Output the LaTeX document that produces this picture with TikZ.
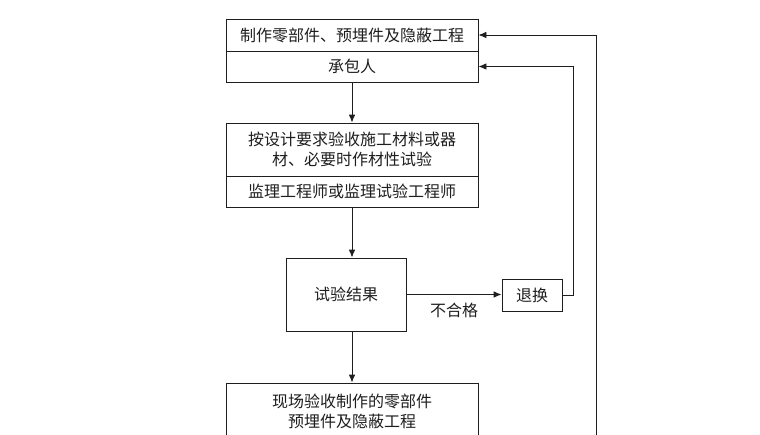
\documentclass[tikz,border=0pt]{standalone}
\usepackage{fontspec}
\usepackage{xcolor}
\usepackage{tikz}
\usetikzlibrary{positioning, arrows.meta}
\newfontfamily\cjk{Noto Sans CJK SC}
\definecolor{fInk}{HTML}{1E1E1E}

\begin{document}
\begin{tikzpicture}[x=0.75pt, y=-0.75pt, >={Latex[length=6pt,width=5pt]},
    box/.style={draw=fInk, line width=0.7pt, rectangle, inner sep=0pt, align=center,
      font=\cjk\fontsize{12}{15}\selectfont, text=fInk},
    flow/.style={->, draw=fInk, line width=0.7pt}]
      \useasboundingbox (0,0) rectangle (760,435);
      \clip (0,0) rectangle (760,435);
      % left column
      \node[box, minimum width=189pt, minimum height=24pt] (zhizuo) at (352,35) {制作零部件、预埋件及隐蔽工程};
      \node[box, minimum width=189pt, minimum height=23.25pt] (chengbao) at (352,66.5) {承包人};
      \node[box, minimum width=189pt, minimum height=39.75pt] (anyaoqiu) at (352,149.5)
        {按设计要求验收施工材料或器\\材、必要时作材性试验};
      \node[box, minimum width=189pt, minimum height=23.25pt] (jianli) at (352,191.5) {监理工程师或监理试验工程师};
      \node[box, minimum width=90pt, minimum height=54.75pt] (jieguo) at (346,294.5) {试验结果};
      \node[box, minimum width=189pt, minimum height=42pt] (xianchang) at (352,411)
        {现场验收制作的零部件\\预埋件及隐蔽工程};
      % right side
      \node[box, minimum width=45pt, minimum height=24pt] (tuihuan) at (532,295) {退换};
      \coordinate (fanhui) at (596,470);

      \draw[flow] (chengbao.south) -- (anyaoqiu.north);
      \draw[flow] (jianli.south) -- (jianli.south |- jieguo.north);
      \draw[flow] (jieguo.south -| jianli.south) -- (xianchang.north);
      \draw[flow] (jieguo.east) -- (jieguo.east -| tuihuan.west)
        node[midway, below=2.5pt, font=\cjk\fontsize{12}{15}\selectfont, text=fInk] (buhege) {不合格};
      \draw[flow] (tuihuan.east) -- ++(11,0) |- (chengbao.east);
      \draw[flow] (fanhui) |- (zhizuo.east);
    \end{tikzpicture}
\end{document}
